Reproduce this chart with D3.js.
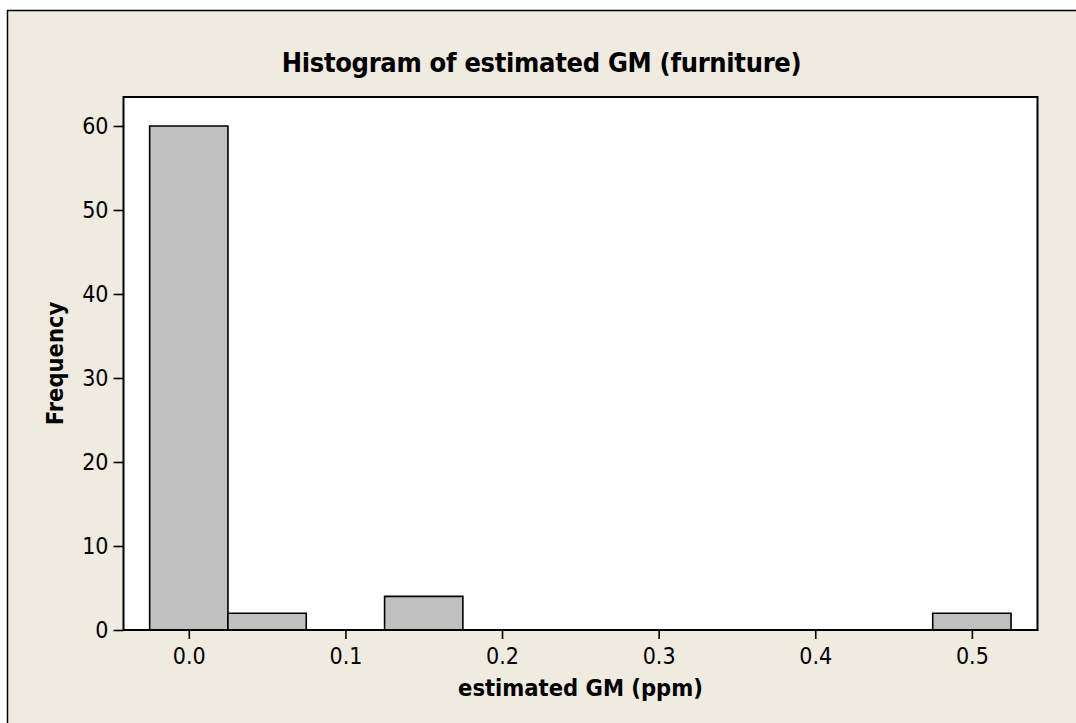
<!DOCTYPE html>
<html>
<head>
<meta charset="utf-8">
<script src="https://cdn.jsdelivr.net/npm/d3@7"></script>
<style>
  body { margin: 0; background: #ffffff; }
  text { font-family: "DejaVu Sans Condensed", "DejaVu Sans", sans-serif; font-stretch: condensed; fill: #000; }
</style>
</head>
<body>
<div id="chart"></div>
<script>
"use strict";

// histogram bins (bin midpoints, width 0.05) and counts
const binMids = [0.0, 0.05, 0.1, 0.15, 0.2, 0.25, 0.3, 0.35, 0.4, 0.45, 0.5];
const counts = [60, 2, 0, 4, 0, 0, 0, 0, 0, 0, 2];
const binWidth = 0.05;
const xTicks = [0.0, 0.1, 0.2, 0.3, 0.4, 0.5];
const yTicks = [0, 10, 20, 30, 40, 50, 60];

const msm = {
  width: 1076,
  height: 723,
  left: 123.5,
  right: 1037.5,
  top: 97,
  bottom: 630
};

const svg = d3.select("#chart")
  .append("svg")
  .attr("width", msm.width)
  .attr("height", msm.height);

// figure background with border on left/top
svg.append("rect")
  .attr("x", 7.5).attr("y", 10.5)
  .attr("width", 1100).attr("height", 800)
  .attr("fill", "#efebe1")
  .attr("stroke", "#000")
  .attr("stroke-width", 1.5);

// plot area
svg.append("rect")
  .attr("x", msm.left).attr("y", msm.top)
  .attr("width", msm.right - msm.left)
  .attr("height", msm.bottom - msm.top)
  .attr("fill", "#ffffff");

const xScale = d3.scaleLinear()
  .domain([-0.0417, 0.5419])
  .range([msm.left, msm.right]);

const yScale = d3.scaleLinear()
  .domain([0, 63.45])
  .range([msm.bottom, msm.top]);

// bars (paths so zero bins still draw their edge line)
svg.selectAll(".bar")
  .data(binMids)
  .enter()
  .append("path")
  .attr("class", "bar")
  .attr("d", (d, i) => {
    let x0 = xScale(d - binWidth / 2), x1 = xScale(d + binWidth / 2);
    let y0 = yScale(0), y1 = yScale(counts[i]);
    return `M${x0},${y0}V${y1}H${x1}V${y0}Z`;
  })
  .attr("fill", "#c0c0c0")
  .attr("stroke", "#000")
  .attr("stroke-width", 1.6);

// frame
svg.append("rect")
  .attr("x", msm.left).attr("y", msm.top)
  .attr("width", msm.right - msm.left)
  .attr("height", msm.bottom - msm.top)
  .attr("fill", "none")
  .attr("stroke", "#000")
  .attr("stroke-width", 2);

// x axis
let xAxis = d3.axisBottom(xScale)
  .tickValues(xTicks)
  .tickFormat(d3.format(".1f"))
  .tickSize(9)
  .tickPadding(8);
let gx = svg.append("g")
  .attr("transform", "translate(0," + msm.bottom + ")")
  .call(xAxis);
gx.select(".domain").remove();
gx.selectAll("line").attr("stroke", "#000").attr("stroke-width", 1.6);
gx.selectAll("text").style("font-size", "23px").attr("dy", "0.75em");

// y axis
let yAxis = d3.axisLeft(yScale)
  .tickValues(yTicks)
  .tickSize(10)
  .tickPadding(5);
let gy = svg.append("g")
  .attr("transform", "translate(" + msm.left + ",0)")
  .call(yAxis);
gy.select(".domain").remove();
gy.selectAll("line").attr("stroke", "#000").attr("stroke-width", 1.6);
gy.selectAll("text").style("font-size", "23px");

// labels
svg.append("text")
  .attr("x", 541.5).attr("y", 72)
  .attr("text-anchor", "middle")
  .style("font-size", "27px")
  .style("font-weight", "bold")
  .style("letter-spacing", "-0.3px")
  .text("Histogram of estimated GM (furniture)");

svg.append("text")
  .attr("x", (msm.left + msm.right) / 2).attr("y", 696)
  .attr("text-anchor", "middle")
  .style("font-size", "23.5px")
  .style("font-weight", "bold")
  .text("estimated GM (ppm)");

svg.append("text")
  .attr("transform", "translate(63," + (msm.top + msm.bottom) / 2 + ")rotate(-90)")
  .attr("text-anchor", "middle")
  .style("font-size", "23.5px")
  .style("font-weight", "bold")
  .text("Frequency");
</script>
</body>
</html>
